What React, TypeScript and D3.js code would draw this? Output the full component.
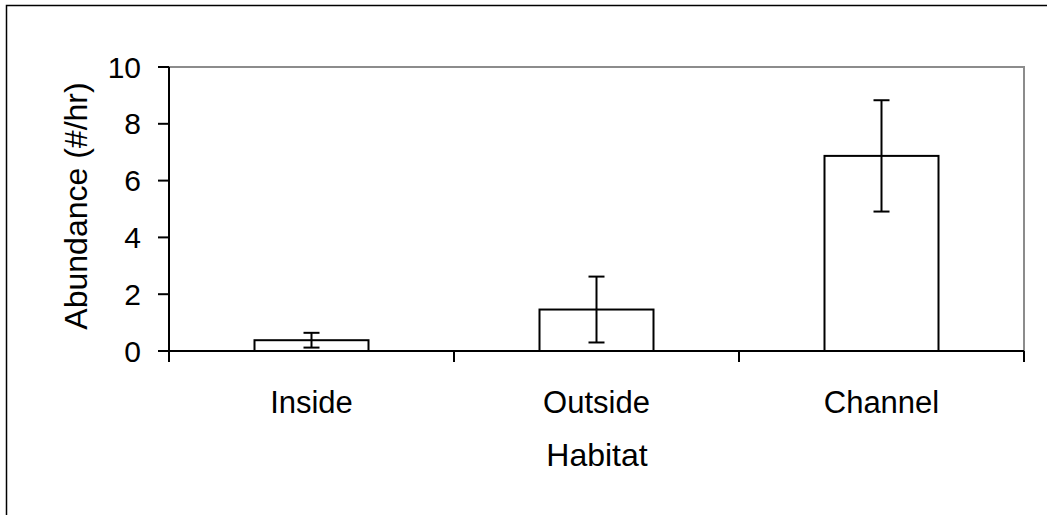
import { useEffect, useRef } from 'react';
import * as d3 from 'd3';

const habitats = [ 'Inside', 'Outside', 'Channel' ];
const abundance = [ 0.38, 1.46, 6.87 ];
const errors = [ 0.26, 1.16, 1.96 ];
const yTicks = [ 0, 2, 4, 6, 8, 10 ];

export default function App() {
  const svgRef = useRef<SVGSVGElement>( null );

  useEffect( () => {
    if ( !svgRef.current ) return;

    const width = 1047;
    const height = 515;
    const margin = { top: 67, right: 23, bottom: 164, left: 169 };
    const font = '"Liberation Sans", Arial, sans-serif';

    const svg = d3.select( svgRef.current );
    svg.selectAll( '*' ).remove();
    svg.attr( 'width', width ).attr( 'height', height );

    // outer frame (right/bottom edges run off the picture)
    svg.append( 'rect' )
      .attr( 'x', 6.5 )
      .attr( 'y', 5.5 )
      .attr( 'width', width + 20 )
      .attr( 'height', height + 20 )
      .attr( 'fill', 'white' )
      .attr( 'stroke', '#000' )
      .attr( 'stroke-width', 1.5 );

    const x0 = margin.left;
    const x1 = width - margin.right;
    const y0 = height - margin.bottom;
    const y1 = margin.top;

    const x = d3.scaleBand<string>()
      .domain( habitats )
      .range( [ x0, x1 ] )
      .paddingInner( 0.6 )
      .paddingOuter( 0.3 );

    const y = d3.scaleLinear().domain( [ 0, 10 ] ).range( [ y0, y1 ] );

    const g = svg.append( 'g' );

    // gray plot border top/right
    g.append( 'path' )
      .attr( 'd', `M${ x0 },${ y1 }H${ x1 }V${ y0 }` )
      .attr( 'fill', 'none' )
      .attr( 'stroke', '#8c8c8c' )
      .attr( 'stroke-width', 2 );

    // bars
    const bars = habitats.map( ( h, i ) => ( { h, v: abundance[ i ], e: errors[ i ] } ) );
    g.selectAll( 'rect.bar' )
      .data( bars )
      .join( 'rect' )
      .attr( 'class', 'bar' )
      .attr( 'x', d => x( d.h )! )
      .attr( 'y', d => y( d.v ) )
      .attr( 'width', x.bandwidth() )
      .attr( 'height', d => y0 - y( d.v ) )
      .attr( 'fill', 'white' )
      .attr( 'stroke', '#000' )
      .attr( 'stroke-width', 2 );

    // error bars
    const cap = 8;
    const eb = g.selectAll( 'g.err' ).data( bars ).join( 'g' ).attr( 'class', 'err' )
      .attr( 'stroke', '#000' ).attr( 'stroke-width', 2 );
    const cx = ( d: { h: string } ) => x( d.h )! + x.bandwidth() / 2;
    eb.append( 'line' )
      .attr( 'x1', cx ).attr( 'x2', cx )
      .attr( 'y1', d => y( d.v + d.e ) ).attr( 'y2', d => y( d.v - d.e ) );
    eb.append( 'line' )
      .attr( 'x1', d => cx( d ) - cap ).attr( 'x2', d => cx( d ) + cap )
      .attr( 'y1', d => y( d.v + d.e ) ).attr( 'y2', d => y( d.v + d.e ) );
    eb.append( 'line' )
      .attr( 'x1', d => cx( d ) - cap ).attr( 'x2', d => cx( d ) + cap )
      .attr( 'y1', d => y( d.v - d.e ) ).attr( 'y2', d => y( d.v - d.e ) );

    // y axis
    g.append( 'line' )
      .attr( 'x1', x0 ).attr( 'x2', x0 )
      .attr( 'y1', y1 ).attr( 'y2', y0 + 11 )
      .attr( 'stroke', '#000' ).attr( 'stroke-width', 2 );
    g.selectAll( 'line.ytick' )
      .data( yTicks )
      .join( 'line' )
      .attr( 'class', 'ytick' )
      .attr( 'x1', x0 - 11 ).attr( 'x2', x0 )
      .attr( 'y1', d => y( d ) ).attr( 'y2', d => y( d ) )
      .attr( 'stroke', '#000' ).attr( 'stroke-width', 2 );
    g.selectAll( 'text.ytick' )
      .data( yTicks )
      .join( 'text' )
      .attr( 'class', 'ytick' )
      .attr( 'x', x0 - 28 )
      .attr( 'y', d => y( d ) + 10.5 )
      .attr( 'text-anchor', 'end' )
      .style( 'font', `30px ${ font }` )
      .text( d => d );

    // x axis
    g.append( 'line' )
      .attr( 'x1', x0 - 11 ).attr( 'x2', x1 )
      .attr( 'y1', y0 ).attr( 'y2', y0 )
      .attr( 'stroke', '#000' ).attr( 'stroke-width', 2 );
    const step = x.step();
    g.selectAll( 'line.xtick' )
      .data( habitats )
      .join( 'line' )
      .attr( 'class', 'xtick' )
      .attr( 'x1', ( _, i ) => x0 + step * ( i + 1 ) )
      .attr( 'x2', ( _, i ) => x0 + step * ( i + 1 ) )
      .attr( 'y1', y0 ).attr( 'y2', y0 + 11 )
      .attr( 'stroke', '#000' ).attr( 'stroke-width', 2 );
    g.selectAll( 'text.xtick' )
      .data( habitats )
      .join( 'text' )
      .attr( 'class', 'xtick' )
      .attr( 'x', d => x( d )! + x.bandwidth() / 2 )
      .attr( 'y', 412.5 )
      .attr( 'text-anchor', 'middle' )
      .style( 'font', `31px ${ font }` )
      .text( d => d );

    // axis titles
    svg.append( 'text' )
      .attr( 'x', 597 )
      .attr( 'y', 466 )
      .attr( 'text-anchor', 'middle' )
      .style( 'font', `32px ${ font }` )
      .text( 'Habitat' );
    svg.append( 'text' )
      .attr( 'transform', `translate(86.5,${ ( y0 + y1 ) / 2 - 3 }) rotate(-90)` )
      .attr( 'text-anchor', 'middle' )
      .style( 'font', `32px ${ font }` )
      .text( 'Abundance (#/hr)' );
  }, [] );

  return <svg ref={ svgRef } style={ { position: 'absolute', left: 0, top: 0, display: 'block' } } />;
}
